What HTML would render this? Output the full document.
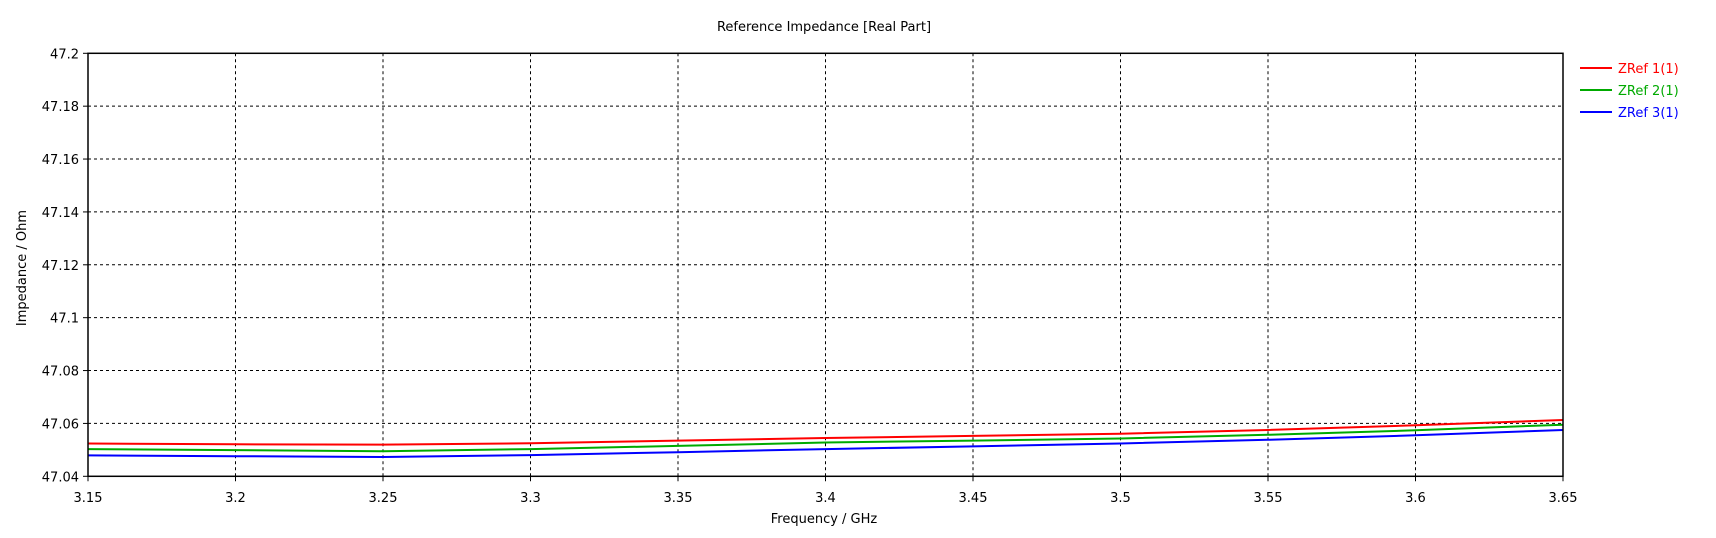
<!DOCTYPE html>
<html><head><meta charset="utf-8"><style>
body{margin:0;background:#fff;}
svg text{font-family:"DejaVu Sans","Liberation Sans",sans-serif;font-size:13px;fill:#000;}
</style></head><body>
<svg width="1716" height="533">
<g id="grid"></g>
<g id="series"></g>
<rect x="88" y="53.3" width="1475" height="423" fill="none" stroke="#000" stroke-width="1.5"/>
<text x="824" y="31" text-anchor="middle">Reference Impedance [Real Part]</text>
<text x="824" y="523" text-anchor="middle">Frequency / GHz</text>
<text transform="translate(26,268) rotate(-90)" text-anchor="middle">Impedance / Ohm</text>
<g id="legend"></g>
</svg>
<script>
const xTicks=[3.15,3.2,3.25,3.3,3.35,3.4,3.45,3.5,3.55,3.6,3.65];
const yTicks=[47.04,47.06,47.08,47.1,47.12,47.14,47.16,47.18,47.2];
const freqs=[3.15,3.2,3.25,3.3,3.35,3.4,3.45,3.5,3.55,3.6,3.65];
const zref1=[47.0524,47.0521,47.0520,47.0525,47.0535,47.0545,47.0553,47.0561,47.0575,47.0593,47.0613];
const zref2=[47.0503,47.0499,47.0495,47.0503,47.0515,47.0528,47.0535,47.0543,47.0557,47.0574,47.0595];
const zref3=[47.0479,47.0476,47.0473,47.0480,47.0491,47.0503,47.0513,47.0524,47.0538,47.0555,47.0575];
const names=["ZRef 1(1)","ZRef 2(1)","ZRef 3(1)"];
const colors=["#ff0000","#00aa00","#0000ff"];
const X0=88,X1=1563,Y0=476.3,Y1=53.3;
const xs=v=>X0+(v-3.15)/(0.5)*(X1-X0);
const ys=v=>Y0-(v-47.04)/(0.16)*(Y0-Y1);
const NS="http://www.w3.org/2000/svg";
const svg=document.querySelector('svg');
const grid=document.getElementById('grid');
function mk(tag,attrs,parent){const e=document.createElementNS(NS,tag);for(const k in attrs)e.setAttribute(k,attrs[k]);parent.appendChild(e);return e;}
xTicks.forEach((t,i)=>{const x=xs(t);
 if(i>0&&i<xTicks.length-1){const l=mk('line',{x1:x,x2:x,y1:Y1,y2:Y0,stroke:'#000','stroke-dasharray':'3,3'},grid);
 
 }
 const tk=mk('line',{x1:x,x2:x,y1:Y0,y2:Y0+5,stroke:'#000'},grid);
 
 
 const tx=mk('text',{x:x,y:502,'text-anchor':'middle'},grid);tx.textContent=String(t);
 
 
});
yTicks.forEach((t,i)=>{const y=ys(t);
 if(i>0&&i<yTicks.length-1){const l=mk('line',{x1:X0,x2:X1,y1:y,y2:y,stroke:'#000','stroke-dasharray':'3,3'},grid);
 
 }
 const tk=mk('line',{x1:X0-5,x2:X0,y1:y,y2:y,stroke:'#000'},grid);
 
 
 const tx=mk('text',{x:79,y:y+5,'text-anchor':'end'},grid);tx.textContent=String(t);
 
 
});
const ser=document.getElementById('series');
[zref1,zref2,zref3].forEach((d,si)=>{
 const pts=d.map((v,i)=>xs(freqs[i]).toFixed(1)+','+ys(v).toFixed(1)).join(' ');
 const p=mk('polyline',{points:pts,fill:'none',stroke:colors[si],'stroke-width':2},ser);
 
 
});
const lg=document.getElementById('legend');
names.forEach((n,i)=>{const y=68+i*22;
 const l=mk('line',{x1:1580,x2:1612,y1:y,y2:y,stroke:colors[i],'stroke-width':2},lg);
 
 
 const t=mk('text',{x:1618,y:y+5,fill:colors[i]},lg);t.textContent=n;t.style.fill=colors[i];
 
 
});
</script>
</body></html>
